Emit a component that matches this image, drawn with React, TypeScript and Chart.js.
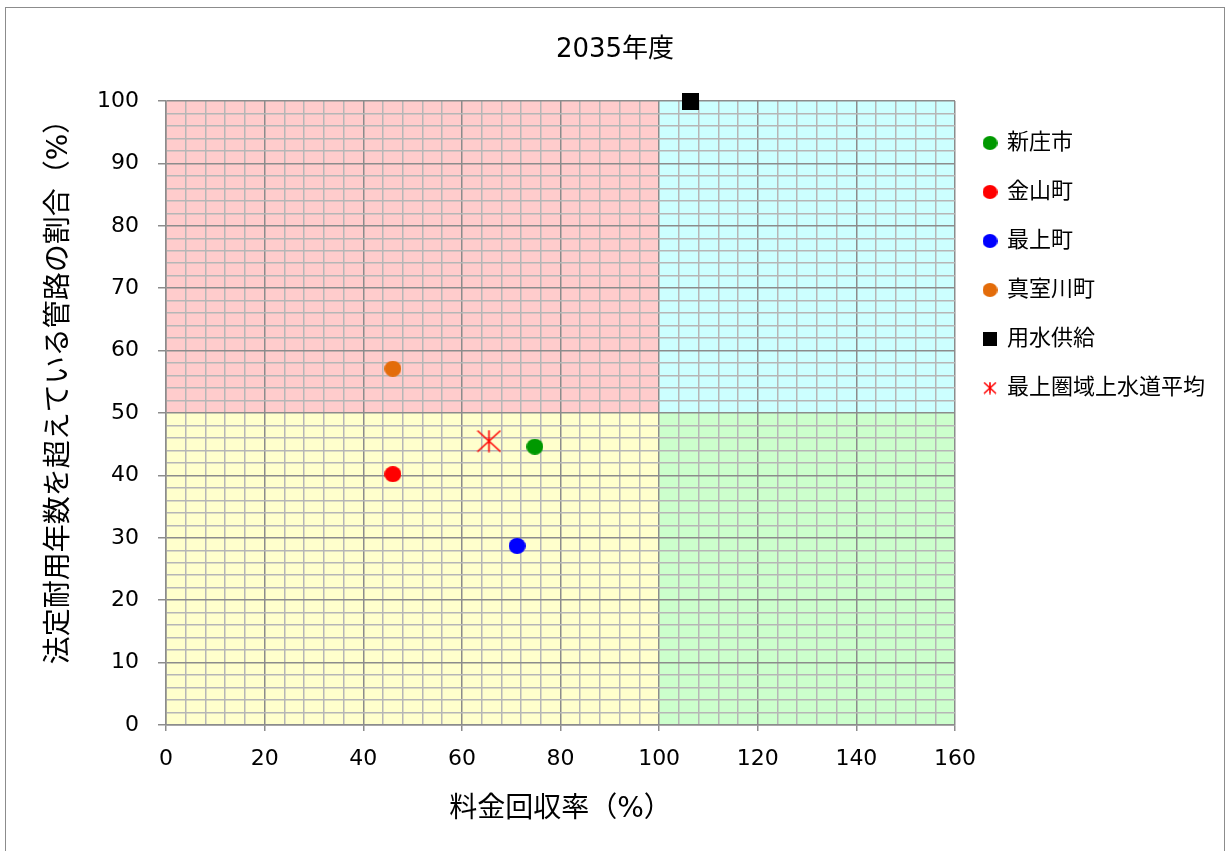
import React, { useEffect, useRef } from 'react';
import { Chart, registerables } from 'chart.js';

Chart.register(...registerables);

// Series: 料金回収率 (x) vs 法定耐用年数を超えている管路の割合 (y), 2035年度
const seriesNames = ['新庄市', '金山町', '最上町', '真室川町', '用水供給', '最上圏域上水道平均'];
const recoveryRate = [74.8, 46.0, 71.2, 46.0, 106.3, 65.5];
const agedPipeRatio = [44.6, 40.2, 28.7, 57.1, 100.0, 45.5];
const seriesColors = ['#009900', '#ff0000', '#0000ff', '#e36c0a', '#000000', '#ff0000'];
const seriesMarkers = ['circle', 'circle', 'circle', 'circle', 'square', 'asterisk'];

// Axis labels (grid lines run at finer steps)
const xAxisLabels = [0, 20, 40, 60, 80, 100, 120, 140, 160];
const yAxisLabels = [0, 10, 20, 30, 40, 50, 60, 70, 80, 90, 100];

// Quadrant shading
const quadrantX = [[0, 100], [100, 160], [0, 100], [100, 160]];
const quadrantY = [[50, 100], [50, 100], [0, 50], [0, 50]];
const quadrantFill = ['#ffcccc', '#ccffff', '#ffffcc', '#ccffcc'];

const FONT = "'DejaVu Sans', 'Noto Sans CJK JP', sans-serif";
const MAJOR_GRID = '#8c8c8c';
const MINOR_GRID = '#b6b6b6';

function makeMarker(kind: string, color: string, w: number, h: number): HTMLCanvasElement {
  const c = document.createElement('canvas');
  c.width = w;
  c.height = h;
  const g = c.getContext('2d')!;
  g.fillStyle = color;
  g.strokeStyle = color;
  if (kind === 'circle') {
    g.beginPath();
    g.ellipse(w / 2, h / 2, w / 2, h / 2, 0, 0, Math.PI * 2);
    g.fill();
  } else if (kind === 'square') {
    g.fillRect(0, 0, w, h);
  } else {
    g.lineWidth = 1.6;
    g.beginPath();
    g.moveTo(w / 2, 0.5);
    g.lineTo(w / 2, h - 0.5);
    g.moveTo(1, 1);
    g.lineTo(w - 1, h - 1);
    g.moveTo(w - 1, 1);
    g.lineTo(1, h - 1);
    g.stroke();
  }
  return c;
}

function pointSize(kind: string): [number, number] {
  if (kind === 'square') return [17, 17];
  if (kind === 'asterisk') return [25, 23];
  return [17, 16];
}

function legendSize(kind: string): [number, number] {
  if (kind === 'square') return [14, 14];
  if (kind === 'asterisk') return [14, 13];
  return [15, 14];
}

const quadrantPlugin = {
  id: 'quadrants',
  beforeDraw(chart: any) {
    const { ctx, scales } = chart;
    const xs = scales.x;
    const ys = scales.y;
    ctx.save();
    quadrantFill.forEach((fill, i) => {
      const x0 = xs.getPixelForValue(quadrantX[i][0]);
      const x1 = xs.getPixelForValue(quadrantX[i][1]);
      const y0 = ys.getPixelForValue(quadrantY[i][1]);
      const y1 = ys.getPixelForValue(quadrantY[i][0]);
      ctx.fillStyle = fill;
      ctx.fillRect(x0, y0, x1 - x0, y1 - y0);
    });
    ctx.restore();
  },
};

// Series key to the right of the plot: marker + name, one per row
function makeKeyPlugin(images: HTMLCanvasElement[]) {
  return {
    id: 'seriesKey',
    afterDraw(chart: any) {
      const { ctx, chartArea } = chart;
      ctx.save();
      ctx.font = `22px ${FONT}`;
      ctx.fillStyle = '#000';
      ctx.textAlign = 'left';
      ctx.textBaseline = 'middle';
      seriesNames.forEach((name, i) => {
        const cy = chartArea.top + 42 + i * 49;
        const img = images[i];
        ctx.drawImage(img, chartArea.right + 35 - img.width / 2, cy - img.height / 2);
        ctx.fillText(name, chartArea.right + 52, cy);
      });
      ctx.restore();
    },
  };
}

const framePlugin = {
  id: 'frame',
  afterDraw(chart: any) {
    const { ctx } = chart;
    ctx.save();
    ctx.strokeStyle = '#8c8c8c';
    ctx.lineWidth = 1;
    ctx.strokeRect(5.5, 7.5, 1219, 900);
    ctx.restore();
  },
};

export default function App() {
  const canvasRef = useRef<HTMLCanvasElement | null>(null);

  useEffect(() => {
    if (!canvasRef.current) return;
    const pointImages = seriesMarkers.map((m, i) => {
      const [w, h] = pointSize(m);
      return makeMarker(m, seriesColors[i], w, h);
    });
    const keyImages = seriesMarkers.map((m, i) => {
      const [w, h] = legendSize(m);
      return makeMarker(m, seriesColors[i], w, h);
    });

    const isMajorX = (v: number) => xAxisLabels.includes(v);
    const isMajorY = (v: number) => yAxisLabels.includes(v);

    const chart = new Chart(canvasRef.current, {
      type: 'scatter',
      data: {
        datasets: seriesNames.map((name, i) => ({
          label: name,
          data: [{ x: recoveryRate[i], y: agedPipeRatio[i] }],
          pointStyle: pointImages[i] as any,
          pointRadius: 8,
          pointHoverRadius: 8,
          backgroundColor: seriesColors[i],
          borderColor: seriesColors[i],
          clip: false as any,
        })),
      },
      options: {
        responsive: false,
        animation: false,
        devicePixelRatio: 1,
        layout: { padding: { left: 4, top: 24.2, right: 0, bottom: 0 } },
        plugins: {
          tooltip: { enabled: false },
          legend: { display: false },
          title: {
            display: true,
            text: '2035年度',
            color: '#000',
            font: { family: FONT, size: 26, weight: 'normal' },
            padding: { top: 10.2, bottom: 35.4 },
          },
        },
        scales: {
          x: {
            type: 'linear',
            position: 'bottom',
            min: 0,
            max: 160,
            ticks: {
              stepSize: 4,
              autoSkip: false,
              maxRotation: 0,
              padding: 15,
              color: '#000',
              font: { family: FONT, size: 22 },
              callback: (v: any) => (isMajorX(Number(v)) ? String(v) : ''),
            },
            grid: {
              color: (c: any) => (isMajorX(c.tick?.value) ? MAJOR_GRID : MINOR_GRID),
              lineWidth: 1.5,
              tickLength: 6,
              tickWidth: 1.5,
              tickColor: (c: any) => (isMajorX(c.tick?.value) ? MAJOR_GRID : 'rgba(0,0,0,0)'),
            },
            border: { color: MAJOR_GRID, width: 1.5 },
            title: {
              display: true,
              text: '料金回収率（%）',
              color: '#000',
              font: { family: FONT, size: 28 },
              padding: { top: 5.8, bottom: 24.2 },
            },
          },
          y: {
            type: 'linear',
            position: 'left',
            min: 0,
            max: 100,
            afterFit: (s: any) => {
              s.width = 162;
            },
            ticks: {
              stepSize: 2,
              autoSkip: false,
              padding: 19,
              color: '#000',
              font: { family: FONT, size: 22 },
              callback: (v: any) => (isMajorY(Number(v)) ? String(v) : ''),
            },
            grid: {
              color: (c: any) => (isMajorY(c.tick?.value) ? MAJOR_GRID : MINOR_GRID),
              lineWidth: 1.5,
              tickLength: 8,
              tickWidth: 1.5,
              tickColor: (c: any) => (isMajorY(c.tick?.value) ? MAJOR_GRID : 'rgba(0,0,0,0)'),
            },
            border: { color: MAJOR_GRID, width: 1.5 },
            title: {
              display: true,
              text: '\u3000\u3000法定耐用年数を超えている管路の割合（%）',
              color: '#000',
              font: { family: FONT, size: 28 },
              padding: { top: 39.2, bottom: 0 },
            },
          },
          // empty right-hand band that holds the series key
          key: {
            type: 'linear',
            position: 'right',
            display: true,
            afterFit: (s: any) => {
              s.width = 271;
            },
            grid: { display: false, drawTicks: false },
            border: { display: false },
            ticks: { display: false },
          },
        },
      },
      plugins: [quadrantPlugin, makeKeyPlugin(keyImages), framePlugin],
    });

    return () => chart.destroy();
  }, []);

  return (
    <div style={{ position: 'absolute', left: 0, top: 0, width: 1226, height: 851 }}>
      <canvas ref={canvasRef} width={1226} height={851} />
    </div>
  );
}
